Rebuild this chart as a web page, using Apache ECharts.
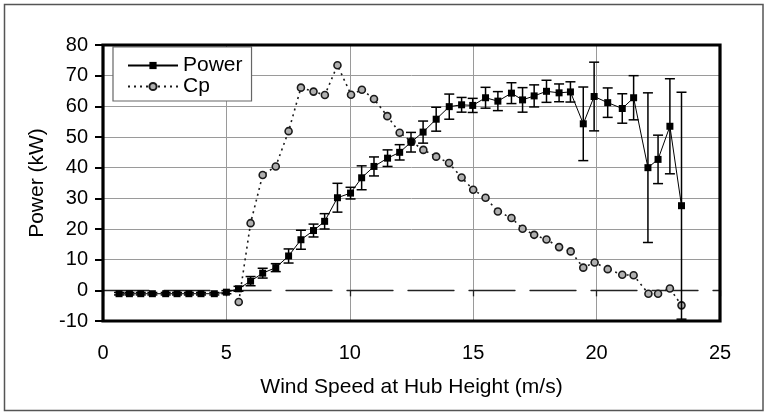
<!DOCTYPE html>
<html>
<head>
<meta charset="utf-8">
<script src="https://cdn.jsdelivr.net/npm/echarts@6/dist/echarts.min.js"></script>
<style>
  html, body { margin: 0; padding: 0; background: #fff; }
  #chart { width: 767px; height: 413px; }
</style>
</head>
<body>
<div id="chart"></div>
<script>
// Binned wind speed (m/s) for the measured power curve
const powerWind = [0.65, 1.07, 1.53, 2.0, 2.54, 3.0, 3.48, 3.97, 4.51, 5.0,
  5.49, 5.98, 6.47, 7.0, 7.52, 8.02, 8.53, 8.98, 9.5, 10.03,
  10.48, 10.98, 11.53, 12.02, 12.48, 12.97, 13.5, 14.03, 14.53, 14.98,
  15.5, 16.0, 16.55, 17.0, 17.47, 17.97, 18.48, 18.94, 19.46, 19.9,
  20.45, 21.04, 21.5, 22.08, 22.49, 22.97, 23.44];
// Mean power per bin (kW)
const powerKW = [-1.1, -1.1, -1.1, -1.1, -1.1, -1.1, -1.1, -1.1, -1.1, -0.6,
  0.5, 3.0, 5.6, 7.4, 11.2, 16.5, 19.5, 22.5, 30.2, 31.7,
  36.7, 40.4, 43.1, 45.0, 48.3, 51.6, 55.8, 59.9, 60.5, 60.3,
  62.8, 61.7, 64.3, 62.1, 63.4, 64.9, 64.4, 64.7, 54.3, 63.2,
  61.2, 59.3, 62.8, 40.0, 42.7, 53.5, 27.6];
// Half-width of the uncertainty bar per bin (kW)
const powerErr = [0.4, 0.4, 0.4, 0.4, 0.4, 0.4, 0.4, 0.4, 0.4, 0.5,
  0.8, 1.5, 1.6, 1.3, 2.3, 3.1, 2.1, 2.5, 4.7, 1.9,
  3.9, 3.1, 2.7, 2.5, 3.2, 3.6, 3.9, 4.1, 2.4, 2.3,
  3.4, 3.1, 3.4, 4.0, 3.6, 3.6, 2.9, 3.3, 12.0, 11.2,
  4.8, 4.8, 7.2, 24.4, 7.9, 15.5, 37.0];
// Power coefficient, plotted on the same scale (percent)
const cpWind = [5.5, 5.98, 6.47, 7.0, 7.52, 8.02, 8.53, 8.99, 9.5, 10.05,
  10.49, 10.98, 11.52, 12.02, 12.5, 12.98, 13.5, 14.02, 14.53, 15.0,
  15.5, 16.0, 16.55, 17.0, 17.47, 17.97, 18.48, 18.95, 19.46, 19.92,
  20.45, 21.04, 21.5, 22.1, 22.49, 22.97, 23.44];
const cpValue = [-3.8, 21.9, 37.6, 40.4, 51.9, 66.1, 64.8, 63.7, 73.4, 63.8,
  65.4, 62.4, 56.8, 51.4, 48.5, 45.8, 43.6, 41.5, 36.8, 32.8,
  30.2, 25.7, 23.6, 20.1, 18.1, 16.6, 14.1, 12.7, 7.4, 9.1,
  6.9, 5.1, 4.9, -1.1, -1.1, 0.6, -4.9];

const xTicks = { min: 0, max: 25, interval: 5 };
const yTicks = { min: -10, max: 80, interval: 10 };

const FONT = "'Liberation Sans', Arial, sans-serif";
const GRID_GREY = '#9a9a9a';

const powerData = powerWind.map((x, i) => [x, powerKW[i]]);
const errData = powerWind.map((x, i) => [x, powerKW[i], powerErr[i]]);
const cpData = cpWind.map((x, i) => [x, cpValue[i]]);

// Horizontal grid colours, one per tick; none at zero where the dashed axis runs
const ySplitColors = [];
for (let v = yTicks.min; v <= yTicks.max; v += yTicks.interval) {
  ySplitColors.push(v === 0 ? 'rgba(0,0,0,0)' : GRID_GREY);
}

const chart = echarts.init(document.getElementById('chart'), null, { renderer: 'canvas' });

chart.setOption({
  animation: false,
  backgroundColor: '#fff',
  textStyle: { fontFamily: FONT },
  grid: { left: 103, right: 47, top: 45, bottom: 92 },
  legend: {
    orient: 'vertical',
    left: 113, top: 47,
    padding: [8, 9, 4, 14],
    itemGap: 0,
    itemWidth: 50,
    itemHeight: 9,
    borderColor: '#666',
    borderWidth: 1.2,
    backgroundColor: '#fff',
    textStyle: { fontFamily: FONT, fontSize: 21, color: '#000', lineHeight: 17 },
    data: ['Power', 'Cp']
  },
  xAxis: [{
    type: 'value',
    min: xTicks.min, max: xTicks.max, interval: xTicks.interval,
    position: 'bottom',
    name: 'Wind Speed at Hub Height (m/s)',
    nameLocation: 'middle',
    nameGap: 56,
    nameTextStyle: { fontFamily: FONT, fontSize: 21, color: '#000' },
    axisLine: { show: false, onZero: false },
    axisTick: { show: false },
    axisLabel: { fontFamily: FONT, fontSize: 20, color: '#000', margin: 22 },
    splitLine: { show: true, lineStyle: { color: GRID_GREY, width: 1 } }
  }, {
    // Zero axis: long-dash line across the plot with small ticks
    type: 'value',
    min: xTicks.min, max: xTicks.max, interval: xTicks.interval,
    position: 'bottom',
    axisLine: { show: true, onZero: true, onZeroAxisIndex: 0,
      lineStyle: { color: '#222', width: 1.3, type: [46, 15] } },
    axisTick: { show: true, length: 6, lineStyle: { color: '#222', width: 1.3 } },
    axisLabel: { show: false },
    splitLine: { show: false }
  }],
  yAxis: {
    type: 'value',
    min: yTicks.min, max: yTicks.max, interval: yTicks.interval,
    position: 'left',
    name: 'Power (kW)',
    nameLocation: 'middle',
    nameGap: 52,
    nameTextStyle: { fontFamily: FONT, fontSize: 21, color: '#000' },
    axisLine: { show: false },
    axisTick: { show: true, length: 8, lineStyle: { color: '#000', width: 2 } },
    axisLabel: { fontFamily: FONT, fontSize: 20, color: '#000', margin: 15 },
    splitLine: { show: true, lineStyle: { color: ySplitColors, width: 1 } }
  },
  series: [{
    name: 'Cp',
    type: 'line',
    data: cpData,
    z: 3,
    symbol: 'circle',
    symbolSize: 7,
    itemStyle: { color: '#b0b0b0', borderColor: '#1a1a1a', borderWidth: 1.6 },
    lineStyle: { color: '#1a1a1a', width: 1.6, type: [2, 4] }
  }, {
    name: 'Power error',
    type: 'custom',
    data: errData,
    z: 4,
    encode: { x: 0, y: 1 },
    renderItem: function (params, api) {
      const x = api.value(0), y = api.value(1), e = api.value(2);
      const top = api.coord([x, y + e]);
      const bot = api.coord([x, y - e]);
      const hw = 5;
      const style = { stroke: '#000', lineWidth: 1.5 };
      return {
        type: 'group',
        children: [
          { type: 'line', shape: { x1: top[0], y1: top[1], x2: bot[0], y2: bot[1] }, style: style },
          { type: 'line', shape: { x1: top[0] - hw, y1: top[1], x2: top[0] + hw, y2: top[1] }, style: style },
          { type: 'line', shape: { x1: bot[0] - hw, y1: bot[1], x2: bot[0] + hw, y2: bot[1] }, style: style }
        ]
      };
    }
  }, {
    name: 'Power',
    type: 'line',
    data: powerData,
    z: 5,
    symbol: 'rect',
    symbolSize: 7,
    itemStyle: { color: '#000' },
    lineStyle: { color: '#000', width: 1 }
  }]
});

// Heavy plot frame and thin outer border, placed from the laid-out grid
const corner0 = chart.convertToPixel({ gridIndex: 0 }, [xTicks.min, yTicks.min]);
const corner1 = chart.convertToPixel({ gridIndex: 0 }, [xTicks.max, yTicks.max]);
const size = { w: chart.getWidth(), h: chart.getHeight() };
chart.setOption({
  graphic: [{
    type: 'rect',
    silent: true,
    z: 100,
    shape: {
      x: corner0[0], y: corner1[1],
      width: corner1[0] - corner0[0], height: corner0[1] - corner1[1]
    },
    style: { fill: 'none', stroke: '#000', lineWidth: 3.2 }
  }, {
    type: 'rect',
    silent: true,
    z: -10,
    shape: { x: 4.5, y: 4.5, width: size.w - 8.5, height: size.h - 7 },
    style: { fill: 'none', stroke: '#555', lineWidth: 1.5 }
  }]
});
</script>
</body>
</html>
